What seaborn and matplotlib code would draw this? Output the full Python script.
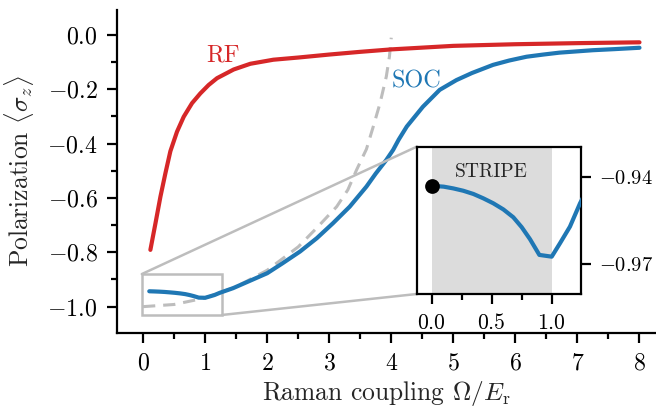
import numpy as np
import pandas as pd
import matplotlib
matplotlib.use("Agg")
import matplotlib.pyplot as plt
from matplotlib.patches import Rectangle, ConnectionPatch
from matplotlib.ticker import MultipleLocator
import seaborn as sns

# ---- data ----
rf_x = [0.118, 0.2, 0.28, 0.36, 0.44, 0.547, 0.655, 0.789, 0.923, 1.057, 1.192, 1.46, 1.728, 2.1, 2.5,
        3.0, 3.5, 4.0, 5.0, 6.0, 7.0, 8.0]
rf_y = [-0.791, -0.693, -0.595, -0.509, -0.428, -0.356, -0.301, -0.251, -0.215, -0.184, -0.159, -0.127, -0.106,
        -0.091, -0.083, -0.072, -0.062, -0.053, -0.040, -0.034, -0.030, -0.027]

soc_x = [0.0, 0.1, 0.18, 0.263, 0.347, 0.43, 0.513, 0.597, 0.68, 0.75, 0.819, 0.897, 1.0, 1.069, 1.152, 1.236,
         1.45, 1.7, 2.0, 2.25, 2.53, 2.8, 3.06, 3.33, 3.6, 3.75, 3.92, 4.03, 4.12, 4.25, 4.51, 4.78, 5.05, 5.3,
         5.64, 5.9, 6.18, 6.45, 6.71, 7.25, 7.6, 8.0]
soc_y = [-0.9431, -0.9434, -0.9440, -0.9448, -0.9459, -0.9474, -0.9491, -0.9512, -0.9539, -0.9573, -0.9614,
         -0.9668, -0.9674, -0.9628, -0.9571, -0.9491,
         -0.932, -0.907, -0.877, -0.840, -0.797, -0.748, -0.693, -0.632, -0.558, -0.510, -0.460, -0.423, -0.385,
         -0.337, -0.264, -0.202, -0.166, -0.140, -0.110, -0.094, -0.080, -0.072, -0.065, -0.056, -0.052, -0.047]

lim_x = [0.0, 0.5, 1.0, 1.5, 2.0, 2.5, 2.8, 3.12, 3.3, 3.44, 3.6, 3.71, 3.82, 3.92, 3.97, 4.0]
lim_y = [-1.0, -0.992, -0.968, -0.927, -0.866, -0.78, -0.71, -0.632, -0.57, -0.497, -0.42, -0.337, -0.25,
         -0.153, -0.08, -0.01]

stripe_span = [0.0, 1.0]
dot_xy = [0.0, -0.9431]

main_xticks = [0, 1, 2, 3, 4, 5, 6, 7, 8]
main_yticks = [-1.0, -0.8, -0.6, -0.4, -0.2, 0.0]
inset_xticks = [0.0, 0.5, 1.0]
inset_yticks = [-0.97, -0.94]

RED = "#d62728"
BLUE = "#1f77b4"
GRAY = "#bdbdbd"

sns.set_theme(style="ticks")
plt.rcParams.update({
    "font.family": ["serif"],
    "font.serif": ["cmr10"],
    "mathtext.fontset": "cm",
    "axes.formatter.use_mathtext": True,
    "axes.unicode_minus": True,
    "xtick.direction": "out",
    "ytick.direction": "out",
    "axes.edgecolor": "black",
    "axes.linewidth": 0.8,
    "xtick.major.width": 0.8,
    "ytick.major.width": 0.8,
    "xtick.minor.width": 0.8,
    "ytick.minor.width": 0.8,
    "xtick.major.size": 3.5,
    "ytick.major.size": 3.5,
    "xtick.minor.size": 2.0,
    "ytick.minor.size": 2.0,
    "xtick.major.pad": 3.5,
    "ytick.major.pad": 3.5,
    "xtick.color": "black",
    "ytick.color": "black",
    "xtick.labelsize": 8.6,
    "ytick.labelsize": 8.6,
})

DPI = 200
fig = plt.figure(figsize=(656 / DPI, 407 / DPI), dpi=DPI)
ax = fig.add_axes([117 / 656, 1 - 333 / 407, (655 - 117) / 656, (333 - 10) / 407])

df_rf = pd.DataFrame({"x": rf_x, "y": rf_y})
df_soc = pd.DataFrame({"x": soc_x, "y": soc_y})
df_lim = pd.DataFrame({"x": lim_x, "y": lim_y})

sns.lineplot(data=df_lim, x="x", y="y", ax=ax, color=GRAY, lw=1.1, zorder=2, estimator=None)
ax.lines[-1].set_dashes((4, 2.6))
sns.lineplot(data=df_rf, x="x", y="y", ax=ax, color=RED, lw=1.5, estimator=None, zorder=3)
sns.lineplot(data=df_soc[df_soc.x >= 0.1], x="x", y="y", ax=ax, color=BLUE, lw=1.5, estimator=None, zorder=3)
for ln in ax.lines:
    ln.set_solid_joinstyle("round")

ax.set_xlim(-0.42, 8.25)
ax.set_ylim(-1.097, 0.092)
ax.set_xticks(main_xticks)
ax.set_yticks(main_yticks)
ax.xaxis.set_minor_locator(MultipleLocator(0.5))
ax.yaxis.set_minor_locator(MultipleLocator(0.1))
ax.set_xlabel(r"Raman coupling $\Omega/E_\mathrm{r}$", fontsize=9.2, labelpad=1.5)
ax.set_ylabel(r"Polarization $\langle\sigma_z\rangle$", fontsize=9.2, labelpad=4)
sns.despine(ax=ax)

ax.text(1.29, -0.074, "RF", color=RED, fontsize=8.7, ha="center", va="center")
ax.text(4.0, -0.172, "SOC", color=BLUE, fontsize=8.7, ha="left", va="center")

# zoom box
rect = Rectangle((-0.02, -1.0305), 1.297, 0.1505, fill=False, edgecolor=GRAY, lw=0.9, zorder=1)
ax.add_patch(rect)

# inset
axin = fig.add_axes([416.7 / 656, 1 - 294 / 407, (581 - 416.7) / 656, (294 - 146.7) / 407])
axin.set_facecolor("white")
axin.axvspan(stripe_span[0], stripe_span[1], color="#dcdcdc", lw=0, zorder=0)
sns.lineplot(data=df_soc, x="x", y="y", ax=axin, color=BLUE, lw=1.5, estimator=None, zorder=3)
axin.lines[-1].set_solid_joinstyle("round")
axin.plot([dot_xy[0]], [dot_xy[1]], "o", color="black", ms=4.3, zorder=4, clip_on=False)
axin.set_xlim(-0.125, 1.244)
axin.set_ylim(-0.9802, -0.9297)
axin.set_xticks(inset_xticks)
axin.xaxis.set_minor_locator(MultipleLocator(0.25))
axin.set_yticks(inset_yticks)
axin.yaxis.tick_right()
axin.tick_params(axis="x", labelsize=7.8)
axin.tick_params(axis="y", labelsize=7.4, pad=3.0)
axin.set_xlabel("")
axin.set_ylabel("")
for s in axin.spines.values():
    s.set_visible(True)
    s.set_linewidth(0.8)
axin.text(0.5, -0.9383, "STRIPE", fontsize=7, ha="center", va="center")

for (xyA, xyB) in [((-0.02, -0.88), (0, 1)), ((1.277, -1.0305), (0, 0))]:
    con = ConnectionPatch(xyA=xyA, coordsA=ax.transData, xyB=xyB, coordsB=axin.transAxes,
                          color=GRAY, lw=0.9, zorder=1)
    fig.add_artist(con)
axin.set_zorder(5)

fig.savefig("out.png", dpi=DPI)
